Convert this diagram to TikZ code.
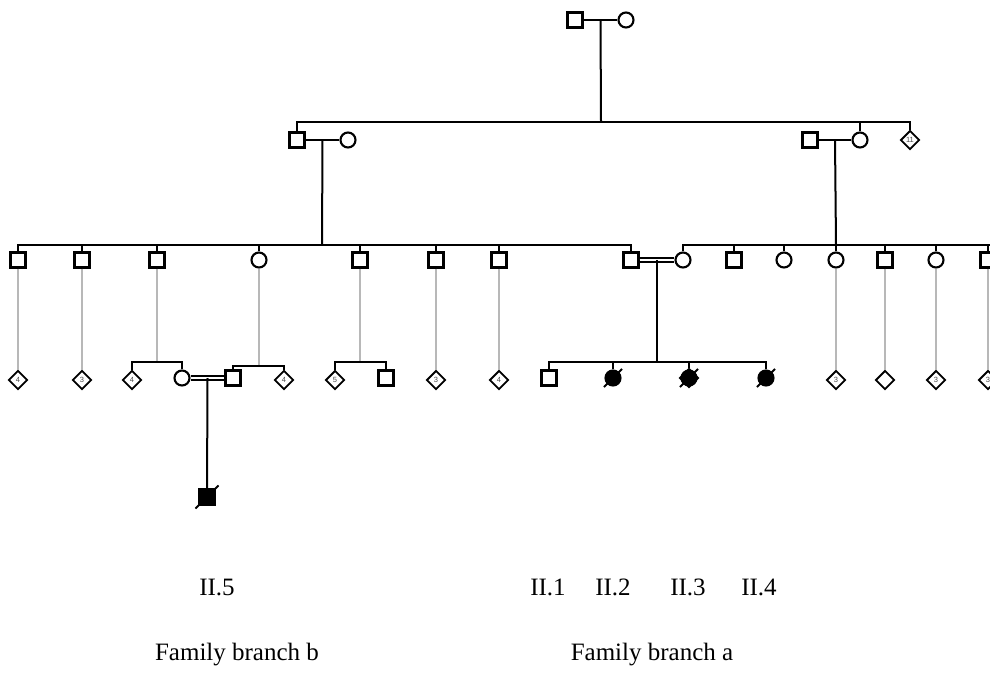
\documentclass[tikz,border=0pt]{standalone}
\usepackage{fontspec}
\setmainfont{Liberation Serif}
\setsansfont{Liberation Sans}
\usetikzlibrary{shapes.geometric}

\begin{document}
\begin{tikzpicture}[x=1pt,y=-1pt,line width=2pt]
 \tikzstyle{male} = [draw,rectangle,minimum size=15pt,inner sep=0,fill=white,line width=2.1pt]
 \tikzstyle{female} = [draw,circle,minimum size=15pt,inner sep=0,fill=white,line width=2.1pt]
 \tikzstyle{sexunk} = [draw,diamond,minimum size=19pt,inner sep=0,fill=white,line width=1.9pt,text=black!70,font=\sffamily\fontsize{7.5}{7.5}\selectfont]
 \tikzstyle{affected} = [fill=black]
 \tikzstyle{kin} = [draw=black!28,line width=1.5pt]
 \tikzstyle{mating} = [double,double distance=1.8pt,line width=1.8pt]
 \tikzstyle{idtext} = [font=\fontsize{25}{30}\selectfont]
 \newcommand{\dead}[1]{\draw[line width=1.8pt] ([shift={(-3,3)}]#1.south west) -- ([shift={(3,-3)}]#1.north east);}
 \useasboundingbox (0,0) rectangle (990,678);

 \node[male] (g1m) at (575,20) {};
 \node[female] (g1f) at (626,20) {};
 \draw (g1m) -- (g1f) coordinate[midway] (g1c);
 \coordinate (g1s) at (601,122);
 \draw (g1c) -- (g1s);

 \node[male] (g2a) at (297,140) {};
 \node[female] (g2aw) at (348,140) {};
 \node[male] (g2bh) at (810,140) {};
 \node[female] (g2b) at (860,140) {};
 \node[sexunk] (g2c) at (910,140) {11};
 \foreach \n in {g2a,g2b,g2c} \draw (\n.north) |- (g1s);
 \draw (g2a) -- (g2aw) coordinate[midway] (g2ac);
 \draw (g2bh) -- (g2b) coordinate[midway] (g2bc);
 \coordinate (g2as) at (322,245);
 \coordinate (g2bs) at (836,245);
 \draw (g2ac) -- (g2as);
 \draw (g2bc) -- (g2bs);

 \node[male] (c1) at (18,260) {};
 \node[male] (c2) at (82,260) {};
 \node[male] (c3) at (157,260) {};
 \node[female] (c4) at (259,260) {};
 \node[male] (c5) at (360,260) {};
 \node[male] (c6) at (436,260) {};
 \node[male] (c7) at (499,260) {};
 \node[male] (c8) at (631,260) {};
 \node[female] (d1) at (683,260) {};
 \node[male] (d2) at (734,260) {};
 \node[female] (d3) at (784,260) {};
 \node[female] (d4) at (836,260) {};
 \node[male] (d5) at (885,260) {};
 \node[female] (d6) at (936,260) {};
 \node[male] (d7) at (988,260) {};
 \foreach \n in {c1,c2,c3,c4,c5,c6,c7,c8} \draw (\n.north) |- (g2as);
 \foreach \n in {d1,d2,d3,d4,d5,d6,d7} \draw (\n.north) |- (g2bs);
 \draw (d7.north) |- (1000,245);

 \draw[mating] (c8) -- (d1) coordinate[midway] (cc);
 \coordinate (ccs) at (657,362);
 \draw (cc) -- (ccs);
 \node[male] (e1) at (549,378) {};
 \node[female,affected] (e2) at (613,378) {};
 \node[sexunk] (e3) at (689,378) {};
 \node[female,affected] (e3c) at (689,378) {};
 \node[female,affected] (e4) at (766,378) {};
 \foreach \n in {e1,e2,e3,e4} \draw (\n.north) |- (ccs);
 \dead{e2} \dead{e3c} \dead{e4}

 \node[sexunk] (f1) at (18,380) {4};
 \node[sexunk] (f2) at (82,380) {3};
 \node[sexunk] (f3) at (132,380) {4};
 \node[female] (f4) at (182,378) {};
 \node[male] (f5) at (233,378) {};
 \node[sexunk] (f6) at (284,380) {4};
 \node[sexunk] (f7) at (335,380) {5};
 \node[male] (f8) at (386,378) {};
 \node[sexunk] (f9) at (436,380) {3};
 \node[sexunk] (f10) at (499,380) {4};
 \node[sexunk] (h1) at (836,380) {3};
 \node[sexunk] (h2) at (885,380) {};
 \node[sexunk] (h3) at (936,380) {3};
 \node[sexunk] (h4) at (988,380) {3};
 \coordinate (c3s) at (157,362);
 \coordinate (c4s) at (259,366);
 \coordinate (c5s) at (360,362);
 \draw[kin] (c1) -- (f1);
 \draw[kin] (c2) -- (f2);
 \draw[kin] (c3) -- (c3s);
 \draw[kin] (c4) -- (c4s);
 \draw[kin] (c5) -- (c5s);
 \draw[kin] (c6) -- (f9);
 \draw[kin] (c7) -- (f10);
 \draw[kin] (d4) -- (h1);
 \draw[kin] (d5) -- (h2);
 \draw[kin] (d6) -- (h3);
 \draw[kin] (d7) -- (h4);
 \foreach \n in {f3,f4} \draw (\n.north) |- (c3s);
 \foreach \n in {f5,f6} \draw (\n.north) |- (c4s);
 \foreach \n in {f7,f8} \draw (\n.north) |- (c5s);

 \draw[mating] (f4) -- (f5) coordinate[midway] (fc);
 \node[male,affected] (g5) at (207,497) {};
 \draw (fc) -- (g5);
 \dead{g5}

 \node[idtext] (t5) at (217,587) {II.5};
 \node[idtext] (t1) at (548,587) {II.1};
 \node[idtext] (t2) at (613,587) {II.2};
 \node[idtext] (t3) at (688,587) {II.3};
 \node[idtext] (t4) at (759,587) {II.4};
 \node[idtext] (fb) at (237,655) {Family branch b};
 \node[idtext] (fa) at (652,655) {Family branch a};
\end{tikzpicture}
\end{document}
